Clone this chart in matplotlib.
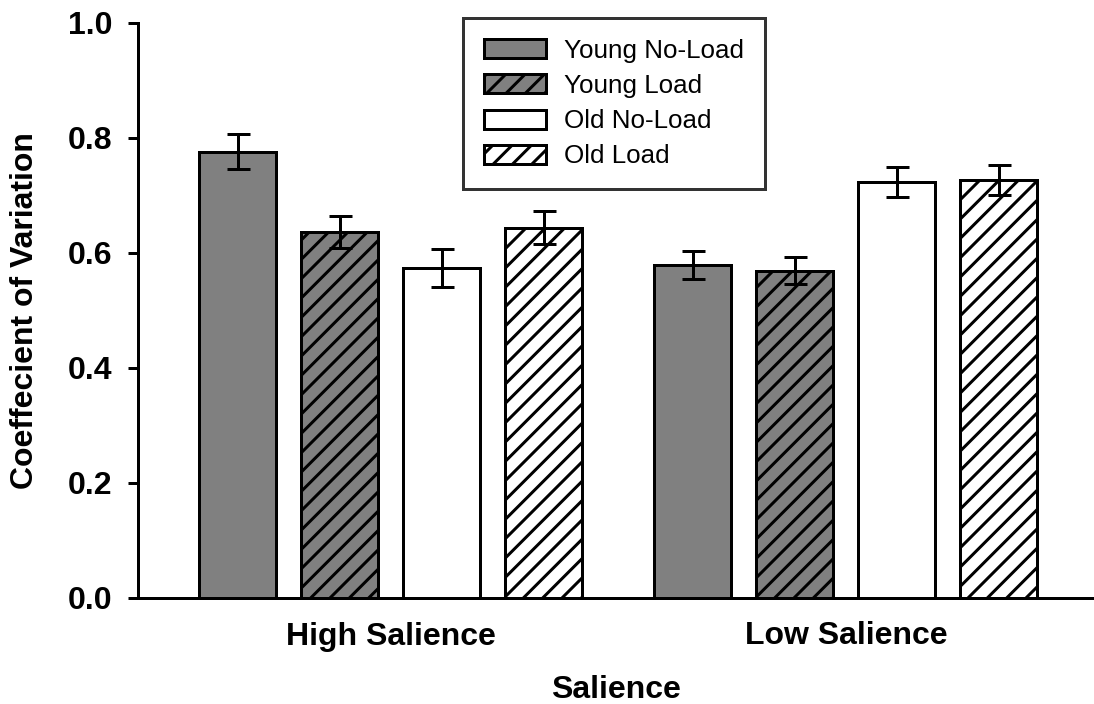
import numpy as np
import matplotlib
matplotlib.use("Agg")
import matplotlib.pyplot as plt
from matplotlib.patches import Patch

# Data
groups = ["High Salience", "Low Salience"]
series = ["Young No-Load", "Young Load", "Old No-Load", "Old Load"]
values = {
    "Young No-Load": [0.776, 0.579],
    "Young Load":    [0.636, 0.569],
    "Old No-Load":   [0.573, 0.723],
    "Old Load":      [0.644, 0.727],
}
errors = {
    "Young No-Load": [0.031, 0.024],
    "Young Load":    [0.028, 0.024],
    "Old No-Load":   [0.033, 0.026],
    "Old Load":      [0.029, 0.026],
}
yticks = [0.0, 0.2, 0.4, 0.6, 0.8, 1.0]

# Styles
faces = {"Young No-Load": "#808080", "Young Load": "#808080",
         "Old No-Load": "white", "Old Load": "white"}
hatches = {"Young No-Load": None, "Young Load": "//",
           "Old No-Load": None, "Old Load": "//"}

DPI = 116
PX = 72.0 / DPI  # points per pixel
plt.rcParams["font.family"] = ["Liberation Sans", "DejaVu Sans"]
plt.rcParams["hatch.linewidth"] = 3 * PX
plt.rcParams["hatch.color"] = "black"

fig = plt.figure(figsize=(1094 / DPI, 704 / DPI), dpi=DPI)
ax = fig.add_axes([137.5 / 1094, (704 - 597.5) / 704, 1 - 137.5 / 1094, (597.5 - 23) / 704])

group_centers = np.array([0.0, 4.46])
bar_w = 0.755
lw = 3 * PX

for i, s in enumerate(series):
    x = group_centers + (i - 1.5)
    ax.bar(x, values[s], width=bar_w, color=faces[s], edgecolor="black",
           linewidth=lw, hatch=hatches[s], zorder=2)
    ax.errorbar(x, values[s], yerr=errors[s], fmt="none", ecolor="black",
                elinewidth=lw, capsize=11.5 * PX, capthick=lw, zorder=3)

ax.set_xlim(-2.485, 6.892)
ax.set_ylim(0, 1.0)
ax.set_yticks(yticks)
ax.set_yticklabels([f"{t:.1f}" for t in yticks])
ax.set_xticks(group_centers)
ax.set_xticklabels(groups)

for sp in ["top", "right"]:
    ax.spines[sp].set_visible(False)
for sp in ["left", "bottom"]:
    ax.spines[sp].set_linewidth(lw)

ax.tick_params(axis="y", direction="out", length=10 * PX, width=lw,
               labelsize=32 * PX, pad=15 * PX)
ax.tick_params(axis="x", length=0, labelsize=32 * PX, pad=24 * PX)
for lab in ax.get_xticklabels() + ax.get_yticklabels():
    lab.set_fontweight("bold")

ax.set_ylabel("Coeffecient of Variation", fontsize=32 * PX, fontweight="bold",
              labelpad=28 * PX)
ax.set_xlabel("Salience", fontsize=32 * PX, fontweight="bold", labelpad=24 * PX)

handles = [Patch(facecolor=faces[s], edgecolor="black", linewidth=lw,
                 hatch=hatches[s], label=s) for s in series]
leg = ax.legend(handles=handles, loc="upper left",
                bbox_to_anchor=(463 / 1094, 1 - 18 / 704),
                bbox_transform=fig.transFigure, borderaxespad=0,
                fontsize=26 * PX, frameon=True, fancybox=False,
                handlelength=2.4, handleheight=0.75, handletextpad=0.7,
                labelspacing=0.43, borderpad=0.8)
leg.get_frame().set_edgecolor("black")
leg.get_frame().set_linewidth(lw)

fig.savefig("out.png", dpi=DPI)
